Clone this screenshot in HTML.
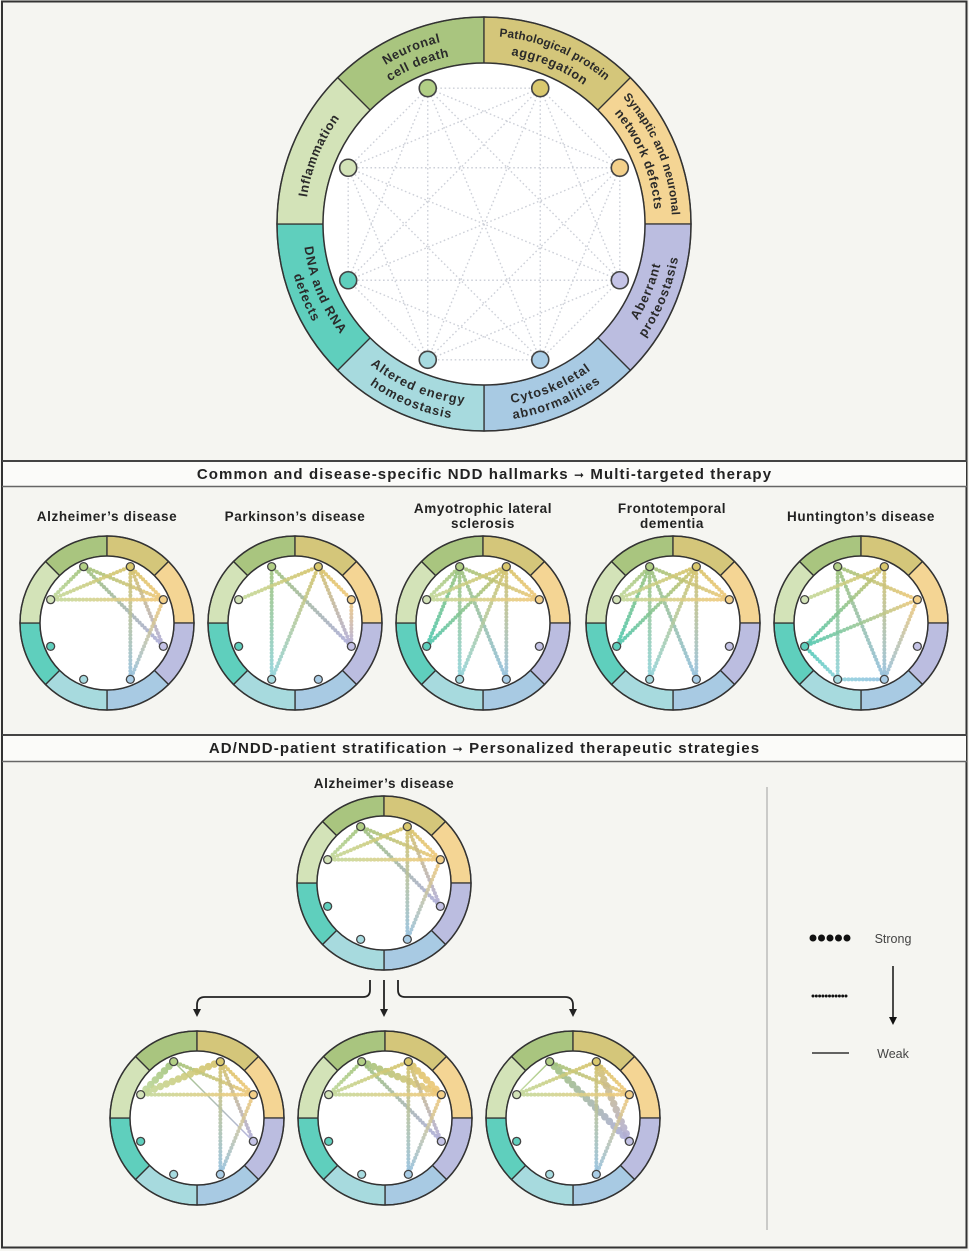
<!DOCTYPE html>
<html><head><meta charset="utf-8">
<style>
html,body{margin:0;padding:0;background:#f5f5f1;}
svg{display:block;font-family:"Liberation Sans","DejaVu Sans",sans-serif;}
</style></head>
<body>
<svg id="s" width="969" height="1251" viewBox="0 0 969 1251" xmlns="http://www.w3.org/2000/svg">
<rect x="0" y="0" width="969" height="1251" fill="#f5f5f1"/>
<rect x="2" y="1.5" width="964.5" height="1246" fill="none" stroke="#333" stroke-width="2"/>
<rect x="3" y="462" width="963" height="24" fill="#fbfbf9"/>
<line x1="2" y1="461" x2="967" y2="461" stroke="#444" stroke-width="2"/>
<line x1="2" y1="486.5" x2="967" y2="486.5" stroke="#666" stroke-width="1.5"/>
<rect x="3" y="736" width="963" height="25" fill="#fbfbf9"/>
<line x1="2" y1="735" x2="967" y2="735" stroke="#444" stroke-width="2"/>
<line x1="2" y1="761.5" x2="967" y2="761.5" stroke="#666" stroke-width="1.5"/>
<text x="484.5" y="479" text-anchor="middle" font-size="15" font-weight="bold" letter-spacing="1.1" fill="#222">Common and disease-specific NDD hallmarks <tspan font-family="DejaVu Sans" font-size="12">➞</tspan> Multi-targeted therapy</text>
<text x="484.5" y="753" text-anchor="middle" font-size="15" font-weight="bold" letter-spacing="1.1" fill="#222">AD/NDD-patient stratification <tspan font-family="DejaVu Sans" font-size="12">➞</tspan> Personalized therapeutic strategies</text>
<g font-size="13.5" font-weight="bold" fill="#222" text-anchor="middle" letter-spacing="0.6">
<text x="107" y="521">Alzheimer’s disease</text>
<text x="295" y="521">Parkinson’s disease</text>
<text x="483" y="513">Amyotrophic lateral</text><text x="483" y="528">sclerosis</text>
<text x="672" y="513">Frontotemporal</text><text x="672" y="528">dementia</text>
<text x="861" y="521">Huntington’s disease</text>
<text x="384" y="788">Alzheimer’s disease</text>
</g>
<line x1="767" y1="787" x2="767" y2="1230" stroke="#bbb" stroke-width="1.5"/>
<line x1="813" y1="938" x2="848" y2="938" stroke="#111" stroke-width="7" stroke-linecap="round" stroke-dasharray="0 8.5"/>
<line x1="813" y1="996" x2="848" y2="996" stroke="#111" stroke-width="3" stroke-linecap="round" stroke-dasharray="0 3.3"/>
<line x1="812" y1="1053" x2="849" y2="1053" stroke="#333" stroke-width="1.6"/>
<text x="893" y="943" text-anchor="middle" font-size="12.5" fill="#444">Strong</text>
<text x="893" y="1058" text-anchor="middle" font-size="12.5" fill="#444">Weak</text>
<line x1="893" y1="966" x2="893" y2="1018" stroke="#111" stroke-width="1.5"/>
<path d="M889 1017 L897 1017 L893 1025 Z" fill="#111"/>
<g fill="none" stroke="#222" stroke-width="1.8">
<path d="M370 980 L370 990 Q370 997 363 997 L205 997 Q197 997 197 1005 L197 1010"/>
<path d="M384 980 L384 1010"/>
<path d="M398 980 L398 990 Q398 997 405 997 L565 997 Q573 997 573 1005 L573 1010"/>
</g>
<g fill="#222">
<path d="M193 1009 L201 1009 L197 1017 Z"/>
<path d="M380 1009 L388 1009 L384 1017 Z"/>
<path d="M569 1009 L577 1009 L573 1017 Z"/>
</g>
<g id="g"></g>
</svg>
<script>
var NS="http://www.w3.org/2000/svg";
var G=document.getElementById("g");
var defs=document.createElementNS(NS,"defs");document.getElementById("s").appendChild(defs);
var seg=["#a9c57f","#d4c67a","#f4d594","#bbbde0","#a8cae3","#a7dade","#5fcfbd","#d3e3b8"];
var nodeC=["#b2cf86","#d9c86e","#f3d08a","#c4c3e6","#a9cde6","#a7dbe0","#5fcfbd","#d3e3b8"];
var edgeC=["#9fc27a","#d6c267","#f1c879","#aeacdc","#92c0e0","#8fd3dc","#4cc8b2","#c2d99c"];
var gid=0;
function el(t,a,p){var e=document.createElementNS(NS,t);for(var k in a)e.setAttribute(k,a[k]);(p||G).appendChild(e);return e;}
function pt(cx,cy,r,a){a=a*Math.PI/180;return [cx+r*Math.sin(a),cy-r*Math.cos(a)];}
function ring(cx,cy,R,r){
  for(var k=0;k<8;k++){
    var a1=-45+45*k,a2=45*k;
    var p1=pt(cx,cy,R,a1),p2=pt(cx,cy,R,a2),p3=pt(cx,cy,r,a2),p4=pt(cx,cy,r,a1);
    el("path",{d:"M"+p1+" A"+R+" "+R+" 0 0 1 "+p2+" L"+p3+" A"+r+" "+r+" 0 0 0 "+p4+" Z",fill:seg[k],stroke:"#333","stroke-width":1.3});
  }
  el("circle",{cx:cx,cy:cy,r:r,fill:"#fff",stroke:"#333","stroke-width":1.5});
  el("circle",{cx:cx,cy:cy,r:R,fill:"none",stroke:"#333","stroke-width":1.5});
}
function nodes(cx,cy,rn){var p=[];for(var k=0;k<8;k++)p.push(pt(cx,cy,rn,-22.5+45*k));return p;}
function edge(P,i,j,w,op){
  var a=P[i],b=P[j],id="gr"+(gid++);
  var lg=el("linearGradient",{id:id,gradientUnits:"userSpaceOnUse",x1:a[0],y1:a[1],x2:b[0],y2:b[1]},defs);
  el("stop",{offset:0,"stop-color":edgeC[i]},lg);el("stop",{offset:1,"stop-color":edgeC[j]},lg);
  var at={x1:a[0],y1:a[1],x2:b[0],y2:b[1],stroke:"url(#"+id+")","stroke-opacity":op||0.9};
  if(w==0){at["stroke-width"]=1.5;}
  else if(w==1){at["stroke-width"]=4;at["stroke-linecap"]="round";at["stroke-dasharray"]="0 3.6";}
  else {at["stroke-width"]=7.5;at["stroke-linecap"]="round";at["stroke-dasharray"]="0 6.5";}
  el("line",at);
}
function small(cx,cy,E){
  ring(cx,cy,87,67);
  var P=nodes(cx,cy,61);
  E.forEach(function(e){edge(P,e[0],e[1],e.length>2?e[2]:1);});
  for(var k=0;k<8;k++)el("circle",{cx:P[k][0],cy:P[k][1],r:4,fill:nodeC[k],stroke:"#444","stroke-width":1.3});
}
(function(){
  var cx=484,cy=224;ring(cx,cy,207,161);
  var P=nodes(cx,cy,147);
  for(var i=0;i<8;i++)for(var j=i+1;j<8;j++)el("line",{x1:P[i][0],y1:P[i][1],x2:P[j][0],y2:P[j][1],stroke:"#cdd0d8","stroke-width":1.4,"stroke-dasharray":"1.6 2.6"});
  for(var k=0;k<8;k++)el("circle",{cx:P[k][0],cy:P[k][1],r:8.5,fill:nodeC[k],stroke:"#444","stroke-width":1.6});
  var labels=[["Neuronal","cell death"],["Pathological protein","aggregation"],["Synaptic and neuronal","network defects"],["Aberrant","proteostasis"],["Cytoskeletal","abnormalities"],["Altered energy","homeostasis"],["DNA and RNA","defects"],["Inflammation"]];
  for(var k=0;k<8;k++){
    var a1=-45+45*k,a2=45*k,cw=(k<=2||k==7);
    var L=labels[k];
    var radii=L.length==1?[184]:(cw?[192,176]:[176,192]);
    for(var m=0;m<L.length;m++){
      var r=radii[m],id="tp"+k+"_"+m,d;
      if(cw){var p1=pt(cx,cy,r,a1-10),p2=pt(cx,cy,r,a2+10);d="M"+p1+" A"+r+" "+r+" 0 0 1 "+p2;}
      else{var p1=pt(cx,cy,r,a2+10),p2=pt(cx,cy,r,a1-10);d="M"+p1+" A"+r+" "+r+" 0 0 0 "+p2;}
      el("path",{id:id,d:d,fill:"none"},defs);
      var fs=(L[m].length>16)?11.8:12.8, ls=(L[m].length>16)?0.3:0.8;
      var t=el("text",{"font-size":fs,"font-weight":"bold",fill:"#2a2a2a","letter-spacing":ls,"text-anchor":"middle","dominant-baseline":"central"});
      var tp=el("textPath",{href:"#"+id,startOffset:"50%"},t);tp.setAttributeNS("http://www.w3.org/1999/xlink","xlink:href","#"+id);tp.textContent=L[m];
    }
  }
})();
var AD=[[0,7],[0,2],[0,3],[1,7],[1,2],[1,3],[1,4],[7,2],[2,4]];
small(107,623,AD);
small(295,623,[[0,5],[0,3],[1,7],[1,5],[1,3],[1,2],[2,3]]);
var ALS=[[0,7],[0,2],[0,5],[0,4],[0,6],[1,7],[1,2],[1,5],[1,4],[1,6],[7,2]];
small(483,623,ALS);
small(673,623,ALS);
small(861,623,[[0,2],[0,5],[0,4],[1,7],[1,6],[1,4],[2,6],[2,4],[6,5],[5,4]]);
small(384,883,AD);
small(197,1118,[[0,7,2],[0,2],[0,3,0],[1,7,2],[1,2],[1,3],[1,4],[7,2],[2,4]]);
small(385,1118,[[0,7],[0,2,2],[0,3],[1,7],[1,2,2],[1,3],[1,4],[7,2],[2,4]]);
small(573,1118,[[0,7,0],[0,2],[0,3,2],[1,7],[1,2],[1,3,2],[1,4],[7,2],[2,4]]);
</script>
</body></html>
